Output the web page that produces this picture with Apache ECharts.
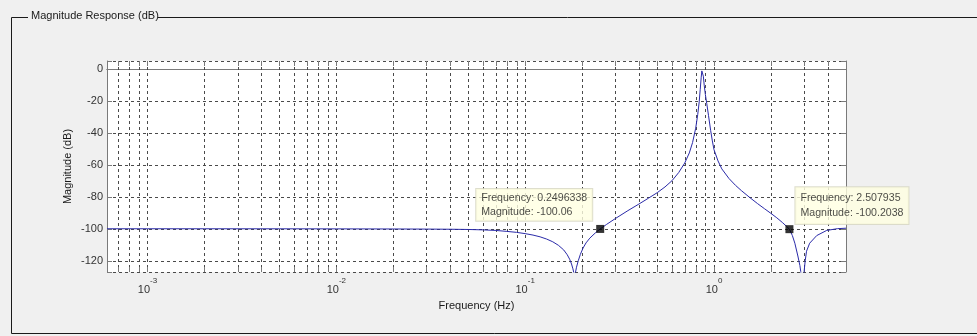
<!DOCTYPE html>
<html><head><meta charset="utf-8">
<script src="https://cdn.jsdelivr.net/npm/echarts@6/dist/echarts.min.js"></script>
<style>html,body{margin:0;padding:0;background:#f0f0f0}#c{width:977px;height:336px}</style>
</head><body><div id="c"></div>
<script>
// Frequency (Hz) samples
const freqHz = [
  0.00061035, 0.001, 0.002, 0.005, 0.01, 0.02, 0.03, 0.04, 0.05, 0.06, 0.07, 0.08, 0.09,
  0.1, 0.11, 0.12, 0.13, 0.14, 0.15, 0.16, 0.167, 0.172, 0.176, 0.179, 0.181, 0.1826, 0.1845,
  0.187, 0.191, 0.196, 0.2026, 0.21, 0.22, 0.235, 0.2496338, 0.27, 0.3, 0.35, 0.4, 0.45,
  0.5, 0.55, 0.6, 0.65, 0.7, 0.74, 0.77, 0.8, 0.82, 0.835, 0.845, 0.855, 0.862, 0.866,
  0.87, 0.878, 0.888, 0.9, 0.915, 0.935, 0.96, 0.98, 1.0, 1.05, 1.1, 1.2, 1.3, 1.4, 1.55,
  1.7, 1.85, 2.0, 2.15, 2.3, 2.42, 2.507935, 2.6, 2.68, 2.78, 2.85, 2.88, 2.94, 3.0, 3.04,
  3.09, 3.21, 3.5, 3.95, 4.5, 5.0
];
// Magnitude (dB) at those frequencies
const magDb = [
  -99.95, -99.95, -99.96, -99.98, -100.02, -100.08, -100.15, -100.25, -100.4, -100.65, -101.0, -101.6, -102.2,
  -103.0, -103.9, -105.0, -106.4, -108.1, -110.3, -113.2, -116.2, -119, -122, -125, -127.5, -150, -127.5,
  -124, -120, -116, -112, -108.8, -105.8, -102.6, -100.06, -97.2, -93.6, -88.6, -84.5, -80.8,
  -77.4, -73.8, -69.8, -64.8, -58.8, -52.5, -46, -37, -28.5, -20.5, -13, -5.5, -1.2, 0,
  -0.8, -4.5, -10.5, -16, -21.5, -29, -38.5, -45, -50.5, -57.5, -62.5, -68.5, -72.8, -76.2, -80.5,
  -84.2, -87.4, -90.3, -93.1, -96, -98.4, -100.2038, -104.2, -109, -117, -123, -126.7, -150, -126.7, -120,
  -114, -109, -104.2, -101, -99.9, -99.6
];
const markerFreq = [0.2496338, 2.507935];
const markerMag = [-100.06, -100.2038];
const markerLines = [
  ['Frequency: 0.2496338', 'Magnitude: -100.06'],
  ['Frequency: 2.507935', 'Magnitude: -100.2038']
];
const xGridFreqs = [
  0.0007, 0.0008, 0.0009,
  0.001, 0.002, 0.003, 0.004, 0.005, 0.006, 0.007, 0.008, 0.009,
  0.01, 0.02, 0.03, 0.04, 0.05, 0.06, 0.07, 0.08, 0.09,
  0.1, 0.2, 0.3, 0.4, 0.5, 0.6, 0.7, 0.8, 0.9,
  1, 2, 3, 4
];
const xMin = 5 / 8192, xMax = 5;
const yMin = -127, yMax = 5;

const FONT = '"Liberation Sans", Arial, sans-serif';
const chart = echarts.init(document.getElementById('c'), null, {renderer: 'canvas'});

const curve = freqHz.map((f, i) => [f, magDb[i]]);
const tipLayouts = [
  {position: [-120, -36], padding: [2, 5, 1, 5]},
  {position: [10, -38], padding: [4, 5, 4, 5]}
];
const markers = markerFreq.map((f, i) => ({
  value: [f, markerMag[i]],
  label: {
    show: true,
    position: tipLayouts[i].position,
    padding: tipLayouts[i].padding,
    formatter: markerLines[i].join('\n')
  }
}));

const axisColor = '#7a7a7a';
const gridColor = '#4a4a4a';
const gridDash = [3, 3];

chart.setOption({
  backgroundColor: '#f0f0f0',
  animation: false,
  textStyle: {fontFamily: FONT},
  grid: {left: 107, top: 61, width: 739, height: 211, show: true, backgroundColor: '#ffffff', borderWidth: 0},
  xAxis: [{
    type: 'log', logBase: 10, min: xMin, max: xMax, position: 'bottom',
    name: 'Frequency (Hz)', nameLocation: 'middle', nameGap: 28, nameMoveOverlap: false,
    nameTextStyle: {fontSize: 11, color: '#1a1a1a', fontFamily: FONT},
    axisLine: {show: true, lineStyle: {color: axisColor}},
    axisTick: {show: false},
    splitLine: {show: false},
    axisLabel: {
      margin: 5, showMinLabel: false, showMaxLabel: false,
      formatter: v => {
        const e = Math.round(Math.log10(v));
        if (Math.abs(v / Math.pow(10, e) - 1) > 1e-6) return '';
        return '{b|10}{s|' + e + '}';
      },
      rich: {
        b: {fontSize: 11, lineHeight: 18, verticalAlign: 'bottom', color: '#333', fontFamily: FONT},
        s: {fontSize: 8, lineHeight: 7, verticalAlign: 'top', color: '#333', fontFamily: FONT}
      }
    }
  }, {
    type: 'log', logBase: 10, min: xMin, max: xMax, position: 'top',
    axisLine: {show: true, lineStyle: {color: axisColor}},
    axisTick: {show: false},
    axisLabel: {show: false}, splitLine: {show: false}
  }],
  yAxis: [{
    type: 'value', min: yMin, max: yMax, splitNumber: 7, position: 'left',
    name: 'Magnitude (dB)', nameLocation: 'middle', nameGap: 34, nameMoveOverlap: false,
    nameTextStyle: {fontSize: 11, color: '#1a1a1a', fontFamily: FONT},
    axisLine: {show: true, lineStyle: {color: axisColor}},
    axisTick: {show: true, inside: true, length: 5, lineStyle: {color: axisColor}},
    splitLine: {show: true, lineStyle: {color: gridColor, width: 1, type: gridDash}},
    axisLabel: {
      margin: 4, fontSize: 11, color: '#333', fontFamily: FONT,
      formatter: v => (Math.abs(v % 20) < 1e-9 ? String(v) : '')
    }
  }, {
    type: 'value', min: yMin, max: yMax, splitNumber: 7, position: 'right',
    axisLine: {show: true, lineStyle: {color: axisColor}},
    axisTick: {show: true, inside: true, length: 5, lineStyle: {color: axisColor}},
    axisLabel: {show: false}, splitLine: {show: false}
  }],
  series: [{
    type: 'custom', name: 'xgrid', silent: true, z: 1, clip: false,
    data: xGridFreqs.map(f => [f, yMin]),
    encode: {x: 0, y: 1},
    renderItem: (params, api) => {
      const f = api.value(0);
      const top = api.coord([f, yMax]);
      const bot = api.coord([f, yMin]);
      const x = Math.round(top[0]) + 0.5;
      return {
        type: 'group',
        children: [
          {type: 'line', shape: {x1: x, y1: top[1], x2: x, y2: bot[1]}, style: {stroke: gridColor, lineWidth: 1, lineDash: gridDash}},
          {type: 'line', shape: {x1: x, y1: bot[1], x2: x, y2: bot[1] - 5}, style: {stroke: axisColor, lineWidth: 1}},
          {type: 'line', shape: {x1: x, y1: top[1], x2: x, y2: top[1] + 5}, style: {stroke: axisColor, lineWidth: 1}}
        ]
      };
    }
  }, {
    type: 'line', name: 'Magnitude', data: curve, showSymbol: false, symbol: 'none',
    clip: true, z: 3,
    lineStyle: {color: '#2a2aa8', width: 1}
  }, {
    type: 'scatter', name: 'tips', data: markers, symbol: 'rect', symbolSize: 8, z: 5,
    itemStyle: {color: '#000'},
    label: {
      fontSize: 10.6, lineHeight: 14.4, color: '#1a1a1a', fontFamily: FONT,
      backgroundColor: '#ffffe1', borderColor: '#d6d6c0', borderWidth: 1,
      align: 'left', verticalAlign: 'top'
    }
  }],
  graphic: [
    {type: 'line', shape: {x1: 11.5, y1: 17.5, x2: 28, y2: 17.5}, style: {stroke: '#1a1a1a', lineWidth: 1}},
    {type: 'line', shape: {x1: 158, y1: 17.5, x2: 977, y2: 17.5}, style: {stroke: '#1a1a1a', lineWidth: 1}},
    {type: 'line', shape: {x1: 11.5, y1: 17.5, x2: 11.5, y2: 333.5}, style: {stroke: '#1a1a1a', lineWidth: 1}},
    {type: 'line', shape: {x1: 11.5, y1: 333.5, x2: 977, y2: 333.5}, style: {stroke: '#1a1a1a', lineWidth: 1}},
    {type: 'text', x: 31, y: 15.5, style: {text: 'Magnitude Response (dB)', font: '11px ' + FONT, fill: '#1a1a1a', verticalAlign: 'middle', align: 'left'}}
  ]
});
</script></body></html>
